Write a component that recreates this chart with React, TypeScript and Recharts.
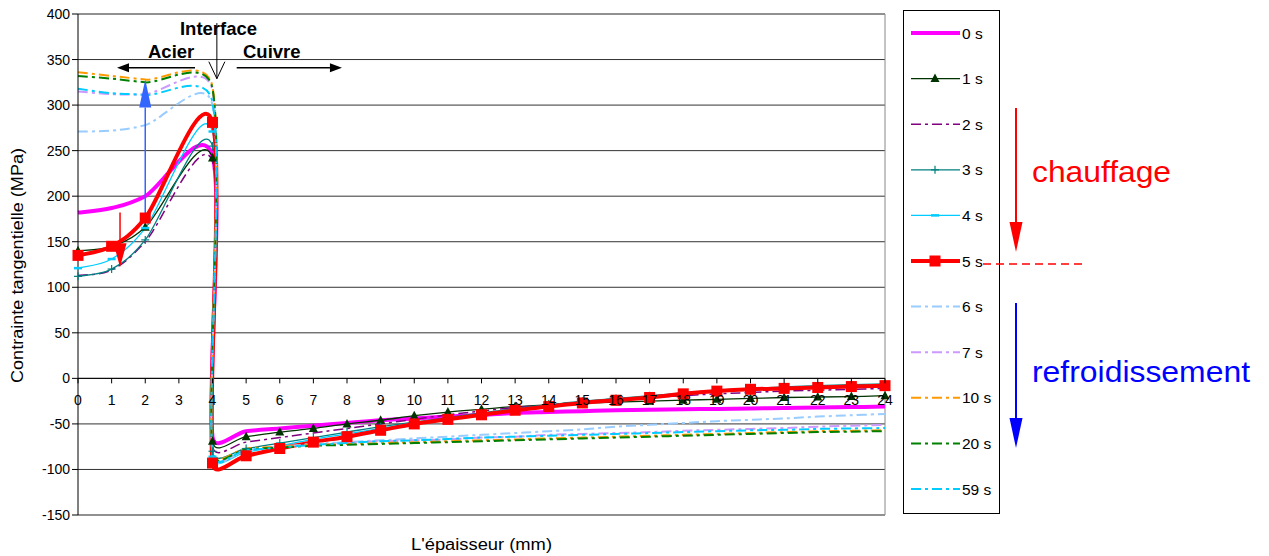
import React from 'react'
import { LineChart, Line, XAxis, YAxis, CartesianGrid, ReferenceLine } from 'recharts'

// épaisseur (mm) : deux points à 4 mm, côté acier puis côté cuivre
const xs = [0, 1, 2, 4, 4, 5, 6, 7, 8, 9, 10, 11, 12, 13, 14, 15, 16, 17, 18, 19, 20, 21, 22, 23, 24]

const t0 = [182, 187, 200, 244, -64, -58, -55, -52, -49, -46, -44, -42, -40, -38, -37, -36, -35, -34.5, -34, -33.5, -33, -32.5, -32, -31.5, -31]
const t1 = [140, 145, 166, 242, -69, -64, -59, -55, -50, -46, -41, -37, -34, -31, -29, -27.5, -26, -25, -24, -23, -22, -21, -20.5, -20, -19]
const t2 = [113, 119, 150, 238, -74, -70, -65, -60, -55, -50, -45, -40, -36, -32, -29, -26, -23.5, -21, -19, -17, -15.5, -14, -13, -12, -11]
const t3 = [112, 120, 152, 255, -80, -77, -71, -65, -59, -53, -48, -43, -38, -33, -29, -25, -22, -19, -16, -13, -11, -9.5, -8, -7, -6]
const t4 = [121, 131, 165, 271, -86, -81, -74, -67, -61, -55, -49, -44, -39, -34, -30, -26, -23, -20, -17, -14.5, -12.5, -11, -9.5, -8.5, -7.5]
const t5 = [135, 145, 176, 281, -93, -85, -77, -70, -64, -57, -50, -45, -40, -35, -31, -27, -24, -21, -17, -14, -12, -11, -10, -9, -8]
const t6 = [271, 272, 278, 300, -86, -79, -75, -72, -70, -68, -66, -64, -62, -60, -58, -56, -53, -51, -49, -47, -45.5, -44, -42, -40.5, -39]
const t7 = [315, 312, 312, 316, -84, -78, -75, -73, -71, -69, -68, -67, -65, -64, -62, -61, -60, -59, -57.5, -56.5, -55.5, -54.5, -53, -52, -51]
const t10 = [336, 332, 328, 320, -82, -77, -75, -73, -72, -71, -70, -69, -68, -67, -66, -65, -64, -63, -62, -61, -60, -59, -58, -57.5, -57]
const t20 = [332, 329, 325, 318, -83, -78, -76, -74, -73, -72, -71, -70, -69, -68, -67, -66, -65, -64, -63, -62, -61, -60, -59, -58.5, -58]
const t59 = [318, 313, 311, 303, -85, -79, -76, -73, -71, -69, -68, -66.5, -65, -64, -63, -62, -61, -60, -59, -58, -57, -56.5, -55.5, -55, -54.5]

const xTicks = [0, 1, 2, 3, 4, 5, 6, 7, 8, 9, 10, 11, 12, 13, 14, 15, 16, 17, 18, 19, 20, 21, 22, 23, 24]
const yTicks = [-150, -100, -50, 0, 50, 100, 150, 200, 250, 300, 350, 400]

const rows = xs.map((x, i) => ({
  x,
  t0: t0[i], t1: t1[i], t2: t2[i], t3: t3[i], t4: t4[i], t5: t5[i],
  t6: t6[i], t7: t7[i], t10: t10[i], t20: t20[i], t59: t59[i],
}))

const DASHDOT = '10 4 3 4'
const series = [
  { key: 't0', name: '0 s', color: '#FF00FF', width: 4, dash: undefined, marker: '' },
  { key: 't1', name: '1 s', color: '#003300', width: 1.3, dash: undefined, marker: 'tri' },
  { key: 't2', name: '2 s', color: '#800080', width: 1.5, dash: DASHDOT, marker: '' },
  { key: 't3', name: '3 s', color: '#008080', width: 1.3, dash: undefined, marker: 'plus' },
  { key: 't4', name: '4 s', color: '#00CCFF', width: 1.3, dash: undefined, marker: 'bar' },
  { key: 't5', name: '5 s', color: '#FF0000', width: 4, dash: undefined, marker: 'square' },
  { key: 't6', name: '6 s', color: '#99CCFF', width: 2, dash: DASHDOT, marker: '' },
  { key: 't7', name: '7 s', color: '#CC99FF', width: 2, dash: DASHDOT, marker: '' },
  { key: 't10', name: '10 s', color: '#FF9900', width: 2, dash: DASHDOT, marker: '' },
  { key: 't20', name: '20 s', color: '#008000', width: 2, dash: DASHDOT, marker: '' },
  { key: 't59', name: '59 s', color: '#00CCFF', width: 2, dash: DASHDOT, marker: '' },
]

const W = 1269
const H = 556
const TOP = 14
const BOTTOM = 41
const PLOT_H = H - TOP - BOTTOM
const Y_MIN = -150
const Y_MAX = 400
const ZERO_Y = TOP + (PLOT_H * Y_MAX) / (Y_MAX - Y_MIN)

// lissage façon Excel : bezier, tangente /6 limitée à la moitié du segment
function cap(dx: number, dy: number, max: number) {
  const l = Math.hypot(dx, dy)
  if (l > max && l > 0) return [(dx * max) / l, (dy * max) / l]
  return [dx, dy]
}

const excelCurve: any = (context: any) => {
  let pts: number[][] = []
  return {
    areaStart() {},
    areaEnd() {},
    lineStart() {
      pts = []
    },
    point(x: number, y: number) {
      pts.push([+x, +y])
    },
    lineEnd() {
      const n = pts.length
      if (!n) return
      context.moveTo(pts[0][0], pts[0][1])
      for (let i = 0; i < n - 1; i++) {
        const p0 = pts[i > 0 ? i - 1 : i]
        const p1 = pts[i]
        const p2 = pts[i + 1]
        const p3 = pts[i + 2 < n ? i + 2 : i + 1]
        const half = Math.hypot(p2[0] - p1[0], p2[1] - p1[1]) / 2
        const a = cap((p2[0] - p0[0]) / 6, (p2[1] - p0[1]) / 6, half)
        const b = cap((p3[0] - p1[0]) / 6, (p3[1] - p1[1]) / 6, half)
        context.bezierCurveTo(p1[0] + a[0], p1[1] + a[1], p2[0] - b[0], p2[1] - b[1], p2[0], p2[1])
      }
    },
  }
}

function Marker({ kind, cx, cy, color }: any) {
  if (kind === 'tri')
    return <polygon points={`${cx},${cy - 5} ${cx - 4.5},${cy + 3.5} ${cx + 4.5},${cy + 3.5}`} fill={color} />
  if (kind === 'plus')
    return (
      <g stroke={color} strokeWidth={1.2}>
        <line x1={cx - 4} x2={cx + 4} y1={cy} y2={cy} />
        <line x1={cx} x2={cx} y1={cy - 4} y2={cy + 4} />
      </g>
    )
  if (kind === 'bar') return <line x1={cx - 4} x2={cx + 4} y1={cy} y2={cy} stroke={color} strokeWidth={2.5} />
  if (kind === 'square') return <rect x={cx - 5.5} y={cy - 5.5} width={11} height={11} fill={color} />
  return null
}

function ArrowShape({ x1, y1, x2, y2, color, w = 1.5, headLen = 12, headW = 4.5, open = false }: any) {
  const dx = x2 - x1
  const dy = y2 - y1
  const len = Math.hypot(dx, dy) || 1
  const ux = dx / len
  const uy = dy / len
  const bx = x2 - ux * headLen
  const by = y2 - uy * headLen
  const px = -uy * headW
  const py = ux * headW
  return (
    <g>
      <line x1={x1} y1={y1} x2={open ? x2 : bx} y2={open ? y2 : by} stroke={color} strokeWidth={w} />
      {open ? (
        <polyline points={`${bx + px},${by + py} ${x2},${y2} ${bx - px},${by - py}`} fill="none" stroke={color} strokeWidth={1} />
      ) : (
        <polygon points={`${x2},${y2} ${bx + px},${by + py} ${bx - px},${by - py}`} fill={color} />
      )}
    </g>
  )
}

function XTick({ x, payload }: any) {
  return (
    <g>
      <line x1={x} x2={x} y1={ZERO_Y} y2={ZERO_Y + 5} stroke="#000" />
      <text x={x} y={ZERO_Y + 27} textAnchor="middle" fontSize={14} fill="#000">
        {payload.value}
      </text>
    </g>
  )
}

function Overlay() {
  const step = 45.6
  return (
    <svg width={W} height={H} style={{ position: 'absolute', left: 0, top: 0, pointerEvents: 'none' }}>
      <text x={17} y={265.5} transform="rotate(-90 17 265.5)" textAnchor="middle" dominantBaseline="central" fontSize={16} fill="#000" textLength={235} lengthAdjust="spacingAndGlyphs">
        Contrainte tangentielle (MPa)
      </text>
      <text x={481.5} y={550} textAnchor="middle" fontSize={16} fill="#000" textLength={141} lengthAdjust="spacingAndGlyphs">
        L'épaisseur (mm)
      </text>

      <text x={218.5} y={35} textAnchor="middle" fontSize={18.5} fontWeight="bold" fill="#000">Interface</text>
      <text x={148} y={58} fontSize={18.5} fontWeight="bold" fill="#000">Acier</text>
      <text x={243} y={58} fontSize={18.5} fontWeight="bold" fill="#000">Cuivre</text>

      <rect x={903.5} y={10.5} width={96} height={503} fill="#fff" stroke="#000" />
      {series.map((s, i) => {
        const y = 33 + i * step
        return (
          <g key={s.key}>
            <line x1={911} x2={960} y1={y} y2={y} stroke={s.color} strokeWidth={s.width} strokeDasharray={s.dash} />
            <Marker kind={s.marker} cx={935} cy={y} color={s.color} />
            <text x={962} y={y + 5.5} fontSize={15.5} fill="#000">{s.name}</text>
          </g>
        )
      })}

      <ArrowShape x1={1016} y1={108} x2={1016} y2={252} color="#FF0000" w={2} headLen={30} headW={6.5} />
      <text x={1032} y={182} fontSize={29} fill="#FF0000" textLength={139} lengthAdjust="spacingAndGlyphs">chauffage</text>
      <line x1={983} x2={1082} y1={264} y2={264} stroke="#FF0000" strokeWidth={1.5} strokeDasharray="8 5" />
      <ArrowShape x1={1016} y1={303} x2={1016} y2={448} color="#0000FF" w={2} headLen={30} headW={6.5} />
      <text x={1032} y={382} fontSize={29} fill="#0000FF" textLength={218} lengthAdjust="spacingAndGlyphs">refroidissement</text>
    </svg>
  )
}

export default function App() {
  return (
    <div style={{ position: 'absolute', left: 0, top: 0, width: W, height: H, background: '#fff', fontFamily: "'Liberation Sans', Arial, sans-serif" }}>
      <LineChart width={W} height={H} data={rows} margin={{ top: TOP, right: 384, bottom: 0, left: 0 }}>
        <CartesianGrid vertical={false} stroke="#333" />
        <XAxis
          dataKey="x"
          type="number"
          domain={[0, 24]}
          ticks={xTicks}
          interval={0}
          height={BOTTOM}
          axisLine={false}
          tickLine={false}
          tick={(p: any) => <XTick {...p} />}
        />
        <YAxis
          type="number"
          domain={[Y_MIN, Y_MAX]}
          ticks={yTicks}
          interval={0}
          width={78}
          tickSize={6}
          axisLine={{ stroke: '#000' }}
          tickLine={{ stroke: '#000' }}
          tick={{ fontSize: 14, fill: '#000' }}
        />
        <ReferenceLine y={Y_MAX} stroke="#888" />
        <ReferenceLine y={Y_MIN} stroke="#888" />
        <ReferenceLine x={24} stroke="#888" />
        <ReferenceLine y={0} stroke="#000" />
        {series.map((s) => (
          <Line
            key={s.key}
            dataKey={s.key}
            name={s.name}
            type={excelCurve}
            stroke={s.color}
            strokeWidth={s.width}
            strokeDasharray={s.dash}
            dot={s.marker ? (p: any) => <Marker key={p.index} kind={s.marker} cx={p.cx} cy={p.cy} color={s.color} /> : false}
            activeDot={false}
            isAnimationActive={false}
          />
        ))}
        <ReferenceLine
          segment={[{ x: 2, y: 168 }, { x: 2, y: 328 }]}
          shape={(p: any) => <ArrowShape {...p} color="#3366FF" w={1.5} headLen={28} headW={6} />}
        />
        <ReferenceLine
          segment={[{ x: 1.25, y: 182 }, { x: 1.25, y: 122 }]}
          shape={(p: any) => <ArrowShape {...p} color="#FF0000" w={1.5} headLen={24} headW={6.5} />}
        />
        <ReferenceLine
          segment={[{ x: 3.48, y: 341 }, { x: 1.16, y: 341 }]}
          shape={(p: any) => <ArrowShape {...p} color="#000" w={1.3} headLen={12} headW={4.5} />}
        />
        <ReferenceLine
          segment={[{ x: 4.72, y: 341 }, { x: 7.85, y: 341 }]}
          shape={(p: any) => <ArrowShape {...p} color="#000" w={1.3} headLen={12} headW={4.5} />}
        />
        <ReferenceLine
          segment={[{ x: 4.13, y: 390 }, { x: 4.13, y: 329 }]}
          shape={(p: any) => <ArrowShape {...p} color="#000" w={1} headLen={17} headW={8} open />}
        />
      </LineChart>
      <Overlay />
    </div>
  )
}
